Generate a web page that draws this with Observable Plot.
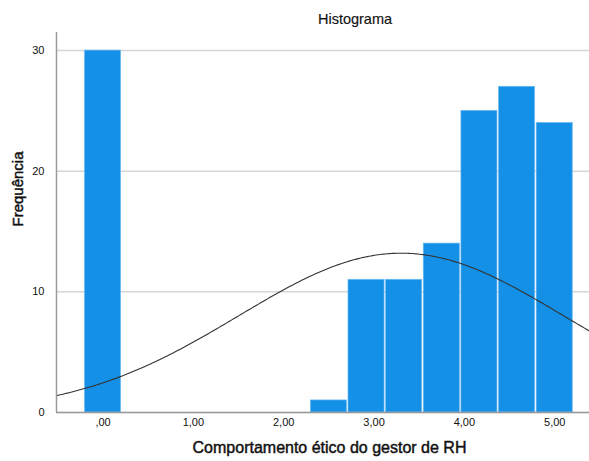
<!DOCTYPE html>
<html>
<head>
<meta charset="utf-8">
<script src="https://cdn.jsdelivr.net/npm/d3@7"></script>
<script src="https://cdn.jsdelivr.net/npm/@observablehq/plot@0.6"></script>
<style>
  html, body { margin: 0; padding: 0; background: #fff; }
  svg { display: block; }
</style>
</head>
<body>
<div id="chart"></div>
<script>
// Histogram data (bin centers and frequencies)
const binCenters = [0, 2.5, 2.9167, 3.3333, 3.75, 4.1667, 4.5833, 5.0];
const counts = [30, 1, 11, 11, 14, 25, 27, 24];
const binWidth = 5 / 12;

// Fitted normal curve parameters (as shown by SPSS)
const curveMean = 3.30;
const curveSD = 1.80;
const curveN = 143;

// Axis ticks
const xTicks = [0, 1, 2, 3, 4, 5];
const xTickLabels = [",00", "1,00", "2,00", "3,00", "4,00", "5,00"];
const yTicks = [0, 10, 20, 30];

const titleText = "Histograma";
const xTitle = "Comportamento ético do gestor de RH";
const yTitle = "Frequência";

const xDomain = [-0.515, 5.385];
const yDomain = [0, 31.5];

const bins = binCenters.map((c, i) => ({x1: c - binWidth / 2, x2: c + binWidth / 2, n: counts[i]}));

const curve = d3.range(xDomain[0], xDomain[1] + 0.01, 0.02).map(x => ({
  x,
  y: curveN * binWidth / (curveSD * Math.sqrt(2 * Math.PI)) * Math.exp(-0.5 * ((x - curveMean) / curveSD) ** 2)
}));

const font = "'Liberation Sans', Arial, sans-serif";

const chart = Plot.plot({
  width: 589,
  height: 461,
  marginLeft: 56,
  marginRight: 0,
  marginTop: 32,
  marginBottom: 49,
  style: {fontFamily: font, fontSize: "11px", color: "#222", background: "#fff"},
  x: {domain: xDomain},
  y: {domain: yDomain},
  marks: [
    Plot.gridY(yTicks, {stroke: "#d6d6d6", strokeOpacity: 1, strokeWidth: 1.5}),
    Plot.rectY(bins, {x1: "x1", x2: "x2", y: "n", fill: "#1490e6", stroke: "#6bb8f0", strokeWidth: 0.7, insetLeft: 0.8, insetRight: 0.8}),
    Plot.line(curve, {x: "x", y: "y", stroke: "#333", strokeWidth: 1.1, clip: true}),
    Plot.ruleY([0], {stroke: "#9a9a9a", strokeWidth: 1.5}),
    Plot.ruleX([xDomain[0]], {stroke: "#9a9a9a", strokeWidth: 1.5, y1: 0, y2: yDomain[1]}),
    Plot.axisY(yTicks, {tickSize: 0, tickPadding: 12, label: null, fontSize: 11, fill: "#111"}),
    Plot.axisX(xTicks, {tickSize: 0, tickPadding: 6, label: null, fontSize: 11, fill: "#111",
      tickFormat: d => xTickLabels[xTicks.indexOf(d)]}),
    Plot.text([titleText], {frameAnchor: "top", text: d => d, dx: 32, dy: -13, fontSize: 14.5, fill: "#111", stroke: "#111", strokeWidth: 0.15, lineAnchor: "middle"}),
    Plot.text([xTitle], {frameAnchor: "bottom", text: d => d, dx: 6.5, dy: 35, fontSize: 16, fill: "#111", stroke: "#111", strokeWidth: 0.45, lineAnchor: "middle"}),
    Plot.text([yTitle], {frameAnchor: "left", text: d => d, rotate: -90, dx: -38, dy: 4, fontSize: 15, fill: "#111", stroke: "#111", strokeWidth: 0.45, lineAnchor: "middle"})
  ]
});
document.getElementById("chart").appendChild(chart);
</script>
</body>
</html>
